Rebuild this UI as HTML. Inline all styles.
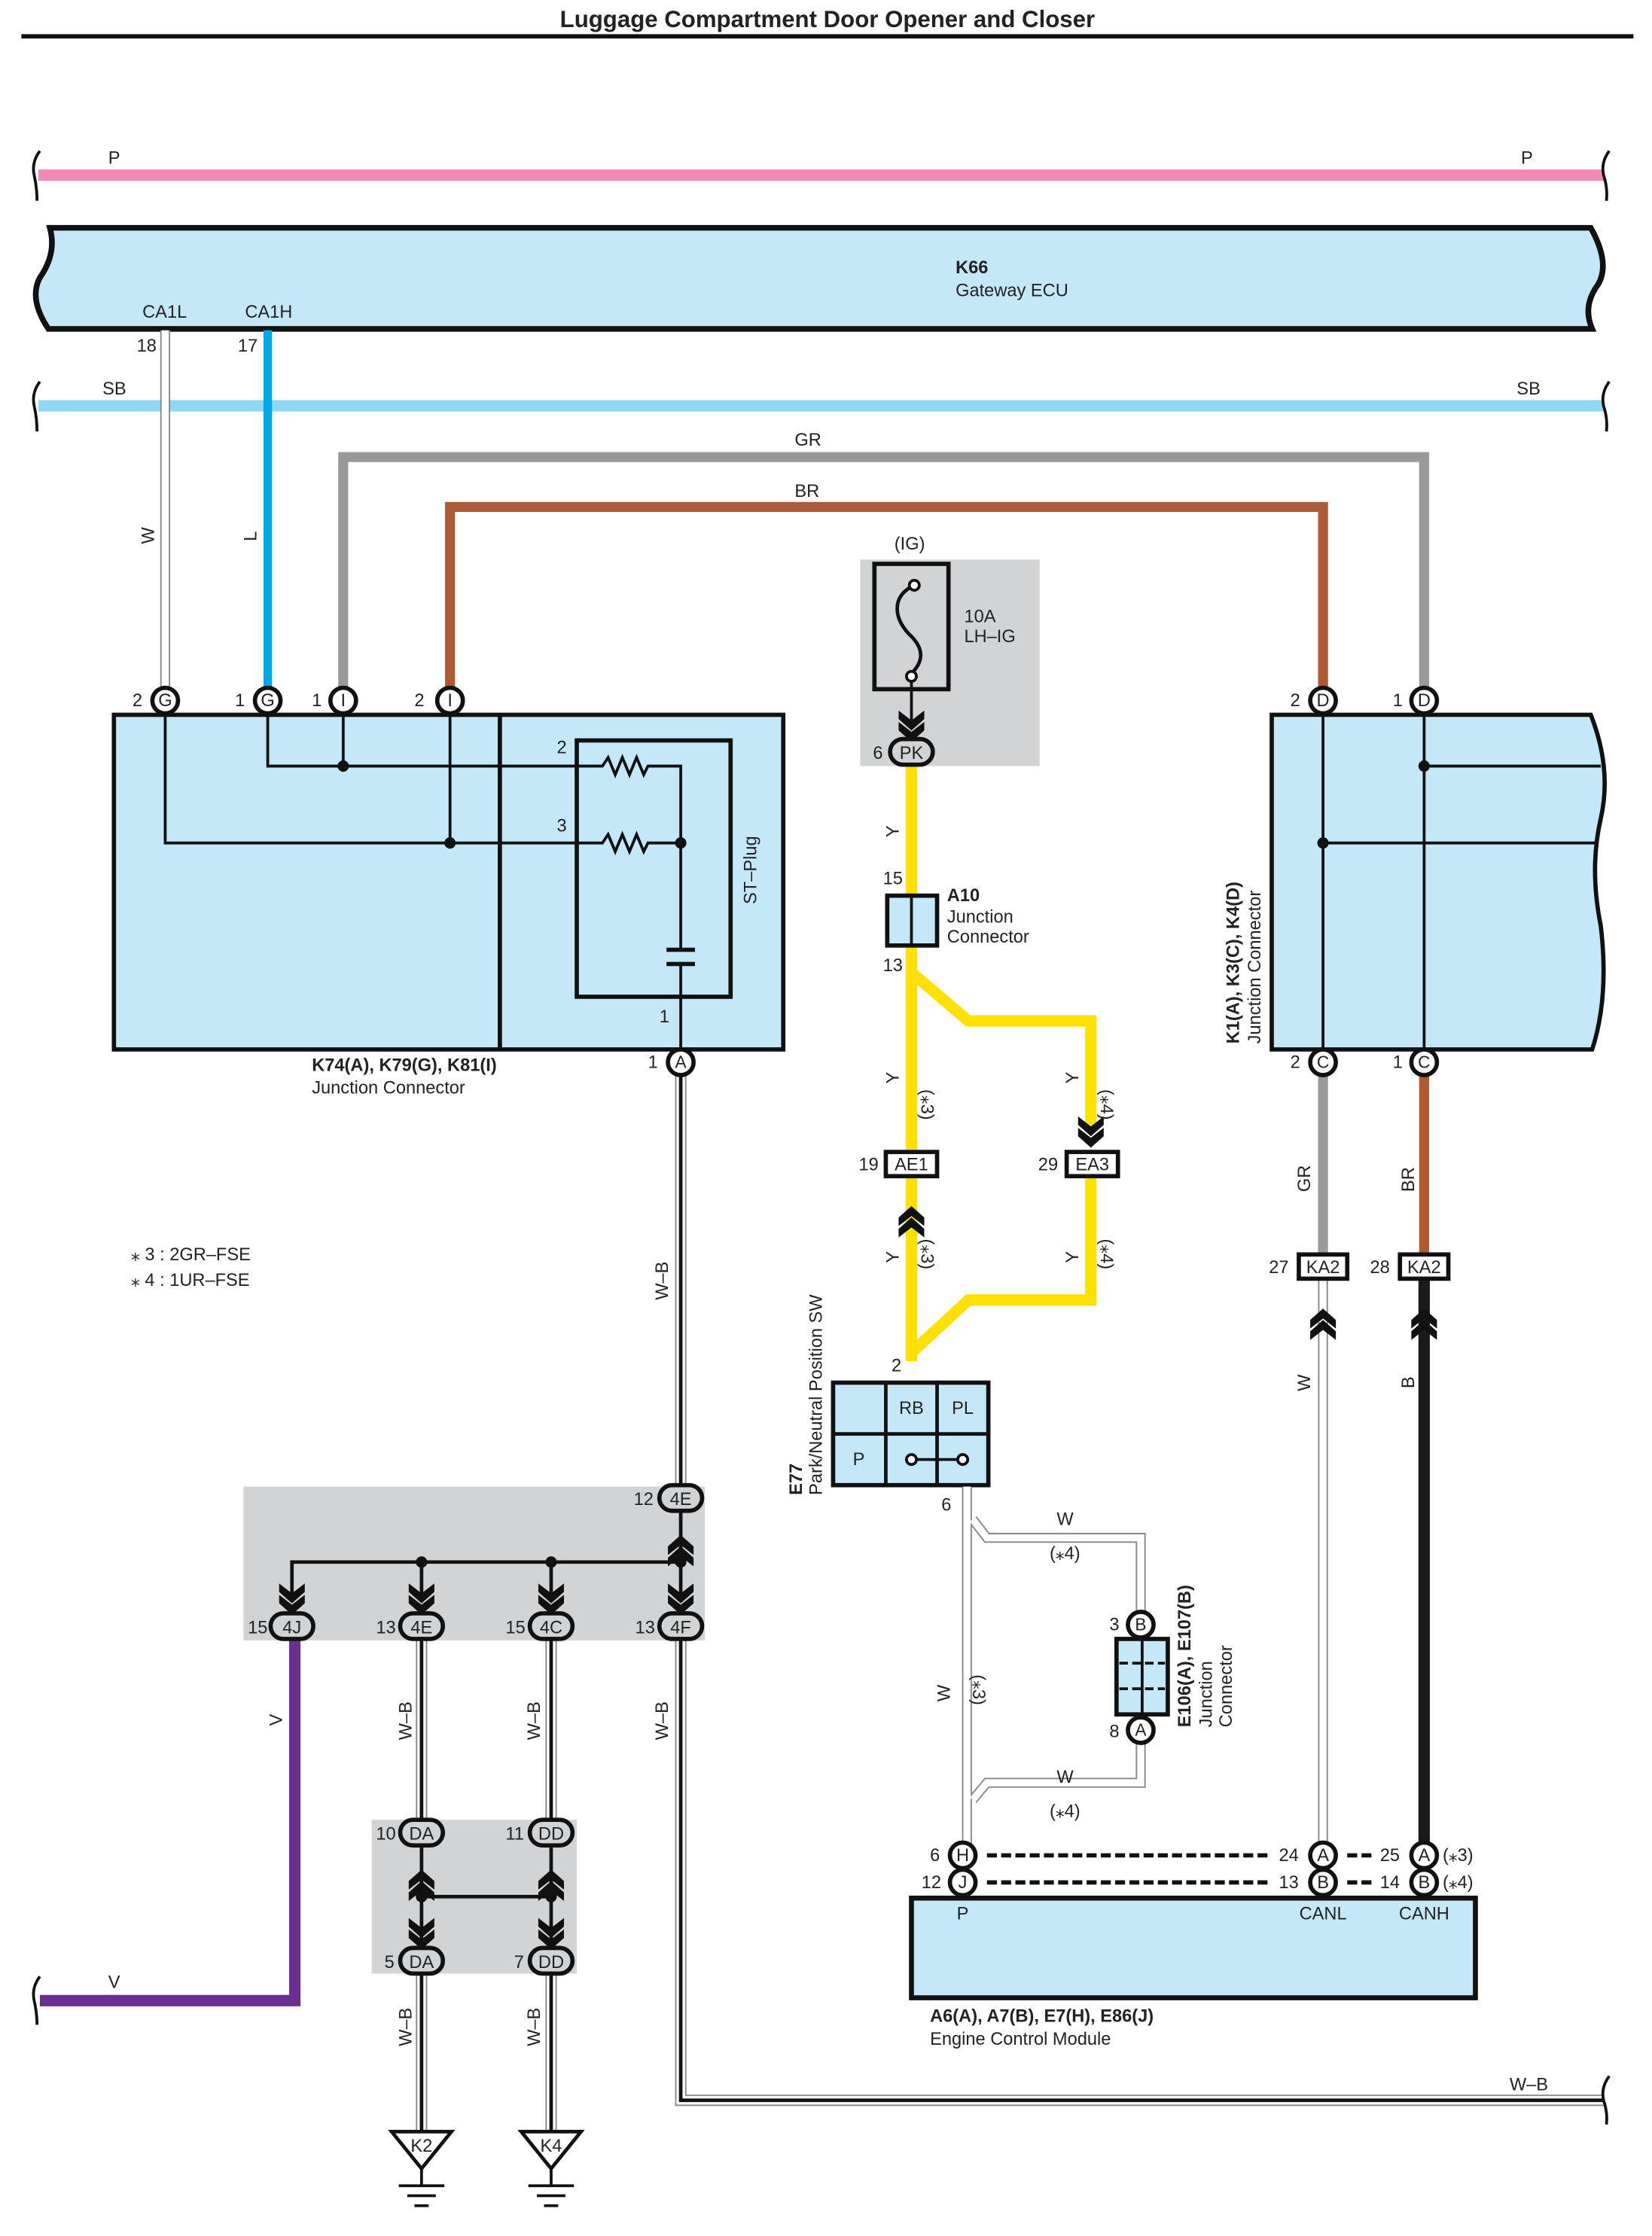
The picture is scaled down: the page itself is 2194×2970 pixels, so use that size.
<!DOCTYPE html>
<html><head><meta charset="utf-8"><style>
html,body{margin:0;padding:0;background:#fff}
svg{display:block}
text{font-family:"Liberation Sans",sans-serif;font-size:12.5px;fill:#222}
.b{font-weight:bold}
</style></head><body>
<svg width="2194" height="2970" viewBox="0 0 1160 1570.3" preserveAspectRatio="none" xmlns="http://www.w3.org/2000/svg">
<defs>
<g id="chd"><path d="M-9,-14 L0,-7 L9,-14 L9,-8 L0,0 L-9,-8Z M-9,-6 L0,1 L9,-6 L9,0 L0,8 L-9,0Z" fill="#111" transform="translate(0,-8)"/></g>
<g id="gnd"><polygon points="-21,0 21,0 0,26" fill="#fff" stroke="#111" stroke-width="2.5"/><line x1="0" y1="26" x2="0" y2="38" stroke="#111" stroke-width="2"/><line x1="-16" y1="38" x2="16" y2="38" stroke="#111" stroke-width="2"/><line x1="-10" y1="45" x2="10" y2="45" stroke="#111" stroke-width="2"/><line x1="-5" y1="52" x2="5" y2="52" stroke="#111" stroke-width="2"/></g>
</defs>

<!-- title -->
<text x="581" y="19" text-anchor="middle" class="b" style="font-size:16.5px">Luggage Compartment Door Opener and Closer</text>
<line x1="15" y1="25.5" x2="1147" y2="25.5" stroke="#111" stroke-width="3"/>

<!-- P wire -->
<line x1="27" y1="123" x2="1126" y2="123" stroke="#f088b8" stroke-width="8"/>
<path d="M28,106 Q22,114 24,123 Q26,132 26,141 M1130,106 Q1124,114 1126,123 Q1129,132 1128,141" fill="none" stroke="#111" stroke-width="2"/>
<text x="76" y="115">P</text><text x="1068" y="115">P</text>

<!-- K66 -->
<path d="M35,160 L1117,160 Q1131,185 1122,200 Q1111,215 1118,231 L34,231 Q20,210 28,195 Q40,178 35,160Z" fill="#c5e8f8" stroke="#111" stroke-width="4"/>
<text x="671" y="192" class="b">K66</text><text x="671" y="208">Gateway ECU</text>
<text x="100" y="223">CA1L</text><text x="172" y="223">CA1H</text>

<!-- SB -->
<line x1="27" y1="285" x2="1126" y2="285" stroke="#8fd8f5" stroke-width="8"/>
<path d="M28,268 Q22,276 24,285 Q26,294 26,303 M1130,268 Q1124,276 1126,285 Q1129,294 1128,303" fill="none" stroke="#111" stroke-width="2"/>
<text x="72" y="277">SB</text><text x="1065" y="277">SB</text>

<!-- W and L -->
<line x1="116" y1="232" x2="116" y2="484" stroke="#888" stroke-width="7"/>
<line x1="116" y1="232" x2="116" y2="484" stroke="#fff" stroke-width="5"/>
<line x1="188" y1="232" x2="188" y2="484" stroke="#00a8e8" stroke-width="6"/>
<text x="96" y="247">18</text><text x="167" y="247">17</text>
<text transform="translate(108,382) rotate(-90)">W</text>
<text transform="translate(180,380) rotate(-90)">L</text>

<!-- GR, BR -->
<path d="M241,484 L241,321 L1000,321 L1000,484" fill="none" stroke="#999" stroke-width="7"/>
<path d="M316,484 L316,356 L929,356 L929,484" fill="none" stroke="#b05a35" stroke-width="7"/>
<text x="558" y="313">GR</text><text x="558" y="349">BR</text>

<!-- Left box -->
<rect x="80" y="502" width="470" height="235" fill="#c5e8f8" stroke="#111" stroke-width="3"/>
<line x1="351" y1="502" x2="351" y2="737" stroke="#111" stroke-width="3"/>
<rect x="405" y="520" width="108" height="180" fill="none" stroke="#111" stroke-width="3"/>
<g fill="none" stroke="#111" stroke-width="2">
<path d="M188,502 L188,538 L423,538 l4,-6 l5,12 l5,-12 l5,12 l5,-12 l5,12 l3,-6 L478,538 L478,667"/>
<path d="M241,502 L241,538"/>
<path d="M116,502 L116,592 L423,592 l4,-6 l5,12 l5,-12 l5,12 l5,-12 l5,12 l3,-6 L478,592"/>
<path d="M316,502 L316,592"/>
<path d="M478,677 L478,738"/>
</g>
<line x1="468" y1="667" x2="488" y2="667" stroke="#111" stroke-width="3"/>
<line x1="468" y1="677" x2="488" y2="677" stroke="#111" stroke-width="3"/>
<circle cx="241" cy="538" r="4" fill="#111"/><circle cx="316" cy="592" r="4" fill="#111"/><circle cx="478" cy="592" r="4" fill="#111"/>
<text x="391" y="529">2</text><text x="391" y="584">3</text><text x="463" y="718">1</text>
<text transform="translate(531,635) rotate(-90)">ST–Plug</text>
<text x="219" y="752" class="b">K74(A), K79(G), K81(I)</text>
<text x="219" y="768">Junction Connector</text>

<!-- pins top left -->
<g stroke="#111" stroke-width="3" fill="#fff">
<circle cx="116" cy="492" r="9"/><circle cx="188" cy="492" r="9"/><circle cx="241" cy="492" r="9"/><circle cx="316" cy="492" r="9"/>
<circle cx="929" cy="492" r="9"/><circle cx="1000" cy="492" r="9"/>
</g>
<g text-anchor="middle" style="font-size:12px">
<text x="116" y="496">G</text><text x="188" y="496">G</text><text x="241" y="496">I</text><text x="316" y="496">I</text>
<text x="929" y="496">D</text><text x="1000" y="496">D</text>
</g>
<text x="93" y="496">2</text><text x="165" y="496">1</text><text x="219" y="496">1</text><text x="291" y="496">2</text>
<text x="906" y="496">2</text><text x="978" y="496">1</text>

<!-- W-B from 1A down to 4E -->
<line x1="478" y1="754" x2="478" y2="1044" stroke="#888" stroke-width="8"/>
<line x1="478" y1="754" x2="478" y2="1044" stroke="#fff" stroke-width="6"/>
<line x1="478" y1="754" x2="478" y2="1044" stroke="#111" stroke-width="2.5"/>
<circle cx="478" cy="746" r="9" fill="#fff" stroke="#111" stroke-width="3"/>
<text x="478" y="750" text-anchor="middle" style="font-size:12px">A</text>
<text x="455" y="750">1</text>
<text transform="translate(469,913) rotate(-90)">W–B</text>

<!-- notes -->
<text x="92" y="885">⁎ 3 : 2GR–FSE</text>
<text x="92" y="903">⁎ 4 : 1UR–FSE</text>

<!-- IG fuse -->
<rect x="604" y="393" width="126" height="145" fill="#d2d3d5"/>
<text x="628" y="386">(IG)</text>
<rect x="614" y="396" width="52" height="88" fill="none" stroke="#111" stroke-width="3"/>
<path d="M640,412 C626,420 628,434 638,445 C650,456 648,465 640,473" fill="none" stroke="#111" stroke-width="2.5"/>
<circle cx="642" cy="411" r="3.5" fill="#fff" stroke="#111" stroke-width="2"/>
<circle cx="640" cy="475" r="3.5" fill="#fff" stroke="#111" stroke-width="2"/>
<line x1="640" y1="479" x2="640" y2="510" stroke="#111" stroke-width="2"/>
<use href="#chd" x="640" y="521"/>
<text x="677" y="437">10A</text><text x="677" y="451">LH–IG</text>

<!-- Yellow wires -->
<g fill="none" stroke="#ffe000" stroke-width="8">
<line x1="640" y1="536" x2="640" y2="630"/>
<line x1="640" y1="662" x2="640" y2="810"/>
<path d="M640,683 L680,717 L766,717 L766,790"/>
<line x1="640" y1="825" x2="640" y2="956"/>
<path d="M766,825 L766,913 L680,913 L640,950"/>
</g>
<rect x="625" y="519" width="30" height="18" rx="9" fill="#d2d3d5" stroke="#111" stroke-width="3"/>
<text x="640" y="533" text-anchor="middle">PK</text><text x="613" y="533">6</text>
<text transform="translate(631,588) rotate(-90)">Y</text>
<rect x="623" y="629" width="35" height="35" fill="#c5e8f8" stroke="#111" stroke-width="3"/>
<line x1="640" y1="629" x2="640" y2="664" stroke="#111" stroke-width="2"/>
<text x="620" y="621">15</text><text x="620" y="682">13</text>
<text x="665" y="633" class="b">A10</text><text x="665" y="648">Junction</text><text x="665" y="662">Connector</text>
<text transform="translate(631,761) rotate(-90)">Y</text>
<text transform="translate(647,765) rotate(90)">(⁎3)</text>
<text transform="translate(757,761) rotate(-90)">Y</text>
<text transform="translate(773,765) rotate(90)">(⁎4)</text>
<use href="#chd" x="766" y="806"/>
<g transform="translate(640,829) rotate(180)"><use href="#chd" x="0" y="-18"/></g>
<rect x="622" y="809" width="36" height="17" fill="#fff" stroke="#111" stroke-width="3"/>
<rect x="749" y="809" width="36" height="17" fill="#fff" stroke="#111" stroke-width="3"/>
<text x="640" y="822" text-anchor="middle">AE1</text><text x="767" y="822" text-anchor="middle">EA3</text>
<text x="603" y="822">19</text><text x="729" y="822">29</text>
<text transform="translate(631,887) rotate(-90)">Y</text>
<text transform="translate(647,870) rotate(90)">(⁎3)</text>
<text transform="translate(757,887) rotate(-90)">Y</text>
<text transform="translate(773,870) rotate(90)">(⁎4)</text>
<text x="626" y="963">2</text>

<!-- E77 -->
<rect x="585" y="971" width="109" height="72" fill="#c5e8f8" stroke="#111" stroke-width="3"/>
<g stroke="#111" stroke-width="2.5"><line x1="622" y1="971" x2="622" y2="1043"/><line x1="658" y1="971" x2="658" y2="1043"/><line x1="585" y1="1007" x2="694" y2="1007"/></g>
<text x="640" y="993" text-anchor="middle">RB</text><text x="676" y="993" text-anchor="middle">PL</text><text x="603" y="1029" text-anchor="middle">P</text>
<line x1="643" y1="1025" x2="673" y2="1025" stroke="#111" stroke-width="2"/>
<circle cx="640" cy="1025" r="3.5" fill="#fff" stroke="#111" stroke-width="2"/><circle cx="676" cy="1025" r="3.5" fill="#fff" stroke="#111" stroke-width="2"/>
<text transform="translate(563,1050) rotate(-90)" class="b">E77</text>
<text transform="translate(577,1050) rotate(-90)">Park/Neutral Position SW</text>

<!-- W wire E77 to ECM -->
<g fill="none" stroke="#888" stroke-width="7"><line x1="679" y1="1044" x2="679" y2="1296"/>
<path d="M683,1067 L693,1080 L801,1080 L801,1134"/><path d="M801,1222 L801,1252 L693,1252 L683,1264"/></g>
<g fill="none" stroke="#fff" stroke-width="5"><line x1="679" y1="1044" x2="679" y2="1296"/>
<path d="M683,1067 L693,1080 L801,1080 L801,1134"/><path d="M801,1222 L801,1252 L693,1252 L683,1264"/></g>
<text x="661" y="1061">6</text>
<text x="742" y="1071">W</text><text x="737" y="1095">(⁎4)</text>
<text transform="translate(667,1195) rotate(-90)">W</text>
<text transform="translate(683,1176) rotate(90)">(⁎3)</text>
<text x="742" y="1252">W</text><text x="737" y="1276">(⁎4)</text>
<rect x="784" y="1151" width="36" height="53" fill="#c5e8f8" stroke="#111" stroke-width="3"/>
<line x1="802" y1="1151" x2="802" y2="1204" stroke="#111" stroke-width="2"/>
<line x1="786" y1="1168" x2="818" y2="1168" stroke="#111" stroke-width="2" stroke-dasharray="6,3"/>
<line x1="786" y1="1186" x2="818" y2="1186" stroke="#111" stroke-width="2" stroke-dasharray="6,3"/>
<circle cx="801" cy="1141" r="9" fill="#fff" stroke="#111" stroke-width="3"/>
<circle cx="801" cy="1215" r="9" fill="#fff" stroke="#111" stroke-width="3"/>
<text x="801" y="1145" text-anchor="middle" style="font-size:12px">B</text><text x="801" y="1219" text-anchor="middle" style="font-size:12px">A</text>
<text x="779" y="1145">3</text><text x="779" y="1220">8</text>
<text transform="translate(836,1213) rotate(-90)" class="b">E106(A), E107(B)</text>
<text transform="translate(851,1213) rotate(-90)">Junction</text>
<text transform="translate(865,1213) rotate(-90)">Connector</text>

<!-- Right box K1 -->
<path d="M893,502 L1117,502 Q1132,540 1124,575 Q1116,610 1124,650 Q1130,700 1118,737 L893,737Z" fill="#c5e8f8" stroke="#111" stroke-width="3"/>
<g stroke="#111" stroke-width="2"><line x1="929" y1="502" x2="929" y2="738"/><line x1="1000" y1="502" x2="1000" y2="738"/>
<line x1="1000" y1="538" x2="1124" y2="538"/><line x1="929" y1="592" x2="1122" y2="592"/></g>
<circle cx="1000" cy="538" r="4" fill="#111"/><circle cx="929" cy="592" r="4" fill="#111"/>
<text transform="translate(870,733) rotate(-90)" class="b">K1(A), K3(C), K4(D)</text>
<text transform="translate(885,733) rotate(-90)">Junction Connector</text>

<line x1="929" y1="754" x2="929" y2="880" stroke="#999" stroke-width="7"/>
<line x1="1000" y1="754" x2="1000" y2="880" stroke="#b05a35" stroke-width="7"/>
<circle cx="929" cy="746" r="9" fill="#fff" stroke="#111" stroke-width="3"/><circle cx="1000" cy="746" r="9" fill="#fff" stroke="#111" stroke-width="3"/>
<text x="929" y="750" text-anchor="middle" style="font-size:12px">C</text><text x="1000" y="750" text-anchor="middle" style="font-size:12px">C</text>
<text x="906" y="750">2</text><text x="978" y="750">1</text>
<text transform="translate(920,837) rotate(-90)">GR</text>
<text transform="translate(993,837) rotate(-90)">BR</text>
<line x1="929" y1="898" x2="929" y2="1296" stroke="#888" stroke-width="7"/>
<line x1="929" y1="898" x2="929" y2="1296" stroke="#fff" stroke-width="5"/>
<line x1="1000" y1="898" x2="1000" y2="1296" stroke="#1a1a1a" stroke-width="8"/>
<g transform="translate(929,901) rotate(180)"><use href="#chd" x="0" y="-18"/></g>
<g transform="translate(1000,901) rotate(180)"><use href="#chd" x="0" y="-18"/></g>
<rect x="912" y="881" width="34" height="17" fill="#fff" stroke="#111" stroke-width="3"/>
<rect x="983" y="881" width="34" height="17" fill="#fff" stroke="#111" stroke-width="3"/>
<text x="929" y="894" text-anchor="middle">KA2</text><text x="1000" y="894" text-anchor="middle">KA2</text>
<text x="891" y="894">27</text><text x="962" y="894">28</text>
<text transform="translate(920,977) rotate(-90)">W</text>
<text transform="translate(993,975) rotate(-90)">B</text>

<!-- ECM -->
<rect x="640" y="1333" width="396" height="70" fill="#c5e8f8" stroke="#111" stroke-width="3.5"/>
<g stroke="#111" stroke-width="3" stroke-dasharray="7,3">
<line x1="693" y1="1303" x2="890" y2="1303"/><line x1="693" y1="1322" x2="890" y2="1322"/>
<line x1="946" y1="1303" x2="966" y2="1303"/><line x1="946" y1="1322" x2="966" y2="1322"/></g>
<g stroke="#111" stroke-width="3" fill="#fff">
<circle cx="676" cy="1303" r="9"/><circle cx="676" cy="1322" r="9"/><circle cx="929" cy="1303" r="9"/><circle cx="929" cy="1322" r="9"/><circle cx="1000" cy="1303" r="9"/><circle cx="1000" cy="1322" r="9"/></g>
<g text-anchor="middle" style="font-size:12px">
<text x="676" y="1307">H</text><text x="676" y="1326">J</text><text x="929" y="1307">A</text><text x="929" y="1326">B</text><text x="1000" y="1307">A</text><text x="1000" y="1326">B</text></g>
<text x="653" y="1307">6</text><text x="647" y="1326">12</text>
<text x="898" y="1307">24</text><text x="898" y="1326">13</text>
<text x="969" y="1307">25</text><text x="969" y="1326">14</text>
<text x="1013" y="1307">(⁎3)</text><text x="1013" y="1326">(⁎4)</text>
<text x="676" y="1348" text-anchor="middle">P</text><text x="929" y="1348" text-anchor="middle">CANL</text><text x="1000" y="1348" text-anchor="middle">CANH</text>
<text x="653" y="1420" class="b">A6(A), A7(B), E7(H), E86(J)</text>
<text x="653" y="1436">Engine Control Module</text>

<!-- lower gray boxes -->
<rect x="171" y="1044" width="324" height="108" fill="#d2d3d5"/>
<rect x="261" y="1278" width="144" height="108" fill="#d2d3d5"/>

<!-- V wire -->
<path d="M207,1152 L207,1405 L28,1405" fill="none" stroke="#6a2d90" stroke-width="8"/>
<path d="M28,1388 Q22,1396 24,1405 Q26,1414 26,1422" fill="none" stroke="#111" stroke-width="2"/>
<text transform="translate(198,1212) rotate(-90)">V</text><text x="76" y="1396">V</text>

<!-- W-B wires lower -->
<g fill="none">
<g stroke="#888" stroke-width="8"><line x1="296" y1="1150" x2="296" y2="1280"/><line x1="387" y1="1150" x2="387" y2="1280"/>
<line x1="296" y1="1385" x2="296" y2="1497"/><line x1="387" y1="1385" x2="387" y2="1497"/>
<path d="M478,1150 L478,1475 L1126,1475"/></g>
<g stroke="#fff" stroke-width="6"><line x1="296" y1="1150" x2="296" y2="1280"/><line x1="387" y1="1150" x2="387" y2="1280"/>
<line x1="296" y1="1385" x2="296" y2="1497"/><line x1="387" y1="1385" x2="387" y2="1497"/>
<path d="M478,1150 L478,1475 L1126,1475"/></g>
<g stroke="#111" stroke-width="2.5"><line x1="296" y1="1150" x2="296" y2="1280"/><line x1="387" y1="1150" x2="387" y2="1280"/>
<line x1="296" y1="1385" x2="296" y2="1497"/><line x1="387" y1="1385" x2="387" y2="1497"/>
<path d="M478,1150 L478,1475 L1126,1475"/></g>
</g>
<path d="M1130,1458 Q1124,1466 1126,1475 Q1129,1484 1128,1492" fill="none" stroke="#111" stroke-width="2"/>
<text x="1060" y="1468">W–B</text>
<text transform="translate(289,1222) rotate(-90)">W–B</text>
<text transform="translate(379,1222) rotate(-90)">W–B</text>
<text transform="translate(469,1222) rotate(-90)">W–B</text>
<text transform="translate(289,1437) rotate(-90)">W–B</text>
<text transform="translate(379,1437) rotate(-90)">W–B</text>

<!-- 4x junction -->
<g stroke="#111" stroke-width="2.5" fill="none">
<path d="M205,1120 L205,1097 L478,1097"/><line x1="296" y1="1097" x2="296" y2="1120"/><line x1="387" y1="1097" x2="387" y2="1120"/><line x1="478" y1="1062" x2="478" y2="1120"/>
<line x1="296" y1="1295" x2="296" y2="1370"/><line x1="387" y1="1295" x2="387" y2="1370"/><line x1="296" y1="1332" x2="387" y2="1332"/>
</g>
<g fill="#111"><circle cx="296" cy="1097" r="4"/><circle cx="387" cy="1097" r="4"/><circle cx="478" cy="1097" r="4"/><circle cx="296" cy="1332" r="4"/><circle cx="387" cy="1332" r="4"/></g>
<use href="#chd" x="205" y="1134"/><use href="#chd" x="296" y="1134"/><use href="#chd" x="387" y="1134"/><use href="#chd" x="478" y="1134"/>
<use href="#chd" x="296" y="1369"/><use href="#chd" x="387" y="1369"/>
<g transform="translate(478,1060) rotate(180)"><use href="#chd" x="0" y="-18"/></g>
<g transform="translate(296,1295) rotate(180)"><use href="#chd" x="0" y="-18"/></g>
<g transform="translate(387,1295) rotate(180)"><use href="#chd" x="0" y="-18"/></g>
<g stroke="#111" stroke-width="3" fill="#d2d3d5">
<rect x="463" y="1043" width="30" height="18" rx="9"/>
<rect x="190" y="1133" width="30" height="18" rx="9"/><rect x="281" y="1133" width="30" height="18" rx="9"/><rect x="372" y="1133" width="30" height="18" rx="9"/><rect x="463" y="1133" width="30" height="18" rx="9"/>
<rect x="281" y="1278" width="30" height="18" rx="9"/><rect x="372" y="1278" width="30" height="18" rx="9"/>
<rect x="281" y="1368" width="30" height="18" rx="9"/><rect x="372" y="1368" width="30" height="18" rx="9"/>
</g>
<g text-anchor="middle">
<text x="478" y="1057">4E</text>
<text x="205" y="1147">4J</text><text x="296" y="1147">4E</text><text x="387" y="1147">4C</text><text x="478" y="1147">4F</text>
<text x="296" y="1292">DA</text><text x="387" y="1292">DD</text><text x="296" y="1382">DA</text><text x="387" y="1382">DD</text>
</g>
<text x="445" y="1057">12</text>
<text x="174" y="1147">15</text><text x="264" y="1147">13</text><text x="355" y="1147">15</text><text x="446" y="1147">13</text>
<text x="264" y="1292">10</text><text x="355" y="1292">11</text><text x="270" y="1382">5</text><text x="361" y="1382">7</text>

<!-- grounds -->
<use href="#gnd" x="296" y="1497"/><use href="#gnd" x="387" y="1497"/>
<text x="296" y="1511" text-anchor="middle">K2</text><text x="387" y="1511" text-anchor="middle">K4</text>
</svg>
</body></html>
